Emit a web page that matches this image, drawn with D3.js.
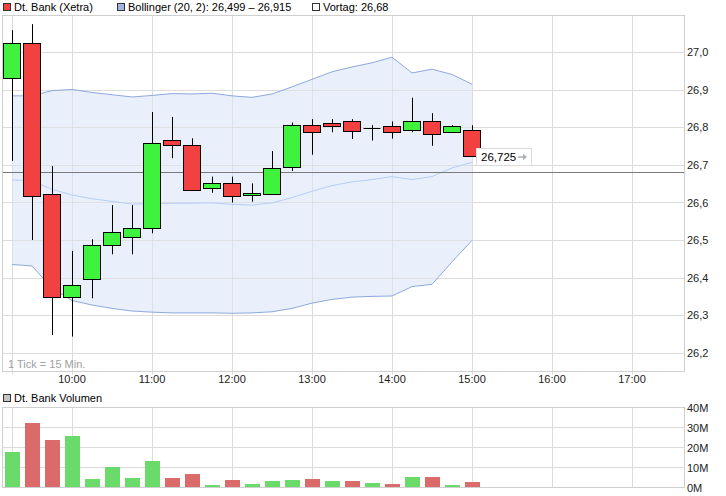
<!DOCTYPE html>
<html><head><meta charset="utf-8">
<script src="https://cdn.jsdelivr.net/npm/d3@7"></script>
<style>body{margin:0;background:#fff}svg{display:block;font-family:"Liberation Sans",Arial,sans-serif}</style>
</head><body><svg id="c" width="726" height="496"></svg>
<script>
// ---- data ----
const times = ["09:15","09:30","09:45","10:00","10:15","10:30","10:45","11:00","11:15","11:30","11:45","12:00",
               "12:15","12:30","12:45","13:00","13:15","13:30","13:45","14:00","14:15","14:30","14:45","15:00"];
const opens  = [26.931,27.024,26.623,26.349,26.396,26.486,26.507,26.531,26.766,26.752,26.638,26.651,
                26.621,26.622,26.695,26.806,26.812,26.817,26.798,26.803,26.792,26.816,26.787,26.792];
const highs  = [27.059,27.075,26.697,26.471,26.502,26.593,26.593,26.841,26.828,26.771,26.669,26.669,
                26.651,26.737,26.813,26.822,26.822,26.822,26.806,26.816,26.879,26.838,26.806,26.806];
const lows   = [26.711,26.500,26.247,26.243,26.345,26.462,26.462,26.518,26.718,26.633,26.626,26.600,
                26.602,26.622,26.684,26.727,26.787,26.769,26.765,26.770,26.787,26.751,26.787,26.725];
const closes = [27.024,26.617,26.349,26.380,26.486,26.521,26.531,26.758,26.752,26.633,26.651,26.617,
                26.626,26.691,26.806,26.787,26.805,26.791,26.798,26.787,26.816,26.782,26.803,26.725];
const volumes = [17.5,32,23.5,25.5,4,10,4.5,13,4.5,6.5,1,3.5,
                 1.5,3,3.5,4,3,3,2,1.5,5,5,1,2.5]; // millions
const upperBand = [26.884,26.884,26.898,26.901,26.893,26.887,26.881,26.885,26.890,26.889,26.891,26.884,
                   26.880,26.889,26.908,26.928,26.948,26.961,26.972,26.987,26.945,26.955,26.941,26.915];
const midBand   = [26.660,26.658,26.635,26.620,26.610,26.603,26.596,26.597,26.598,26.598,26.599,26.595,
                   26.593,26.599,26.613,26.630,26.645,26.655,26.661,26.669,26.661,26.669,26.692,26.707];
const lowerBand = [26.435,26.431,26.372,26.339,26.327,26.318,26.311,26.308,26.306,26.306,26.306,26.305,
                   26.306,26.309,26.318,26.332,26.342,26.348,26.350,26.351,26.376,26.382,26.442,26.499];
const priceTicks = [26.2,26.3,26.4,26.5,26.6,26.7,26.8,26.9,27.0];
const hourTicks = ["10:00","11:00","12:00","13:00","14:00","15:00","16:00","17:00"];
const volTicks = [0,10,20,30,40];
const vortag = 26.68;
const legendItems = ["Dt. Bank (Xetra)","Bollinger (20, 2): 26,499 \u2013 26,915","Vortag: 26,68"];

// ---- scales ----
const toMin = s => { const [h,m] = s.split(":").map(Number); return h*60+m; };
const x = d3.scaleLinear().domain([600,660]).range([72,152]);
const y = d3.scaleLinear().domain([26.2,27.0]).range([352.7,52.3]);
const yv = d3.scaleLinear().domain([0,40]).range([487,407.5]);
const L = 2.5, R = 684.5, T = 15.5, B = 371.5, VT = 407.5, VB = 487.5;
const px = v => Math.round(v) + 0.5;
const fmt = v => v.toFixed(1).replace(".", ",");

const svg = d3.select("#c");
svg.append("rect").attr("width",726).attr("height",496).attr("fill","#fff");

const gridC = "#dcdcdc", frameC = "#cfcfcf";
const data = times.map((t,i)=>({t:toMin(t), o:opens[i], h:highs[i], l:lows[i], c:closes[i],
  v:volumes[i], up:upperBand[i], mid:midBand[i], lo:lowerBand[i],
  volUp: i===0 ? closes[i]>=opens[i] : closes[i]>=closes[i-1]}));

// ---- main panel grid ----
const g = svg.append("g");
const vGrid = [toMin(times[0])].concat(hourTicks.map(toMin));
vGrid.forEach(t=>{
  g.append("line").attr("x1",px(x(t))).attr("x2",px(x(t))).attr("y1",T).attr("y2",B+3).attr("stroke",gridC);
  g.append("line").attr("x1",px(x(t))).attr("x2",px(x(t))).attr("y1",VT).attr("y2",VB).attr("stroke",gridC);
});
priceTicks.forEach(p=>{
  g.append("line").attr("x1",L).attr("x2",R).attr("y1",px(y(p))).attr("y2",px(y(p))).attr("stroke",gridC);
  g.append("text").attr("x",687).attr("y",y(p)+4).attr("font-size",11).attr("fill","#222").text(fmt(p));
});

// Bollinger band
const area = d3.area().x(d=>x(d.t)).y0(d=>y(d.lo)).y1(d=>y(d.up));
g.append("path").datum(data).attr("d",area).attr("fill","#eaf0fb");
// redraw grid lines faintly over band (reference shows grid through band)
priceTicks.forEach(p=>{
  g.append("line").attr("x1",L).attr("x2",R).attr("y1",px(y(p))).attr("y2",px(y(p))).attr("stroke",gridC).attr("stroke-opacity",0.8);
});
vGrid.forEach(t=>{
  g.append("line").attr("x1",px(x(t))).attr("x2",px(x(t))).attr("y1",T).attr("y2",B).attr("stroke",gridC).attr("stroke-opacity",0.8);
});
const line = key => d3.line().x(d=>x(d.t)).y(d=>y(d[key]));
g.append("path").datum(data).attr("d",line("up")).attr("fill","none").attr("stroke","#8ea8de");
g.append("path").datum(data).attr("d",line("lo")).attr("fill","none").attr("stroke","#8ea8de");
g.append("path").datum(data).attr("d",line("mid")).attr("fill","none").attr("stroke","#b6cdf7");

// Vortag line
g.append("line").attr("x1",L).attr("x2",R).attr("y1",px(y(vortag))).attr("y2",px(y(vortag))).attr("stroke","#7a7a7a");

// frames
g.append("rect").attr("x",L).attr("y",T).attr("width",R-L).attr("height",B-T).attr("fill","none").attr("stroke",frameC);
g.append("rect").attr("x",L).attr("y",VT).attr("width",R-L).attr("height",VB-VT).attr("fill","none").attr("stroke",frameC);

// candles
const cg = svg.append("g");
data.forEach(d=>{
  const cx = Math.round(x(d.t));
  cg.append("line").attr("x1",cx+0.5).attr("x2",cx+0.5).attr("y1",y(d.h)).attr("y2",y(d.l)).attr("stroke","#000");
  const top = Math.round(y(Math.max(d.o,d.c))), bot = Math.round(y(Math.min(d.o,d.c)));
  if (d.o === d.c) {
    cg.append("line").attr("x1",cx-8.5).attr("x2",cx+8.5).attr("y1",top+0.5).attr("y2",top+0.5).attr("stroke","#000");
  } else {
    cg.append("rect").attr("x",cx-8.5).attr("y",top+0.5).attr("width",17).attr("height",Math.max(1,bot-top))
      .attr("fill", d.c>d.o ? "#3ef23e" : "#f24141").attr("stroke","#000");
  }
});

// last price label
const last = data[data.length-1];
const ly = y(last.c);
const lb = svg.append("g");
lb.append("rect").attr("x",476.5).attr("y",Math.round(ly)-7.5).attr("width",55).attr("height",17)
  .attr("fill","#fff").attr("stroke","#dcdcdc");
lb.append("text").attr("x",481).attr("y",Math.round(ly)+5).attr("font-size",11.5).attr("fill","#000")
  .text(last.c.toFixed(3).replace(".",","));
const ay = Math.round(ly)+1;
lb.append("path").attr("d",`M518,${ay-0.8}h5v-2.5l4,3.3l-4,3.3v-2.5h-5z`).attr("fill","#b0b0b0");

// x labels
hourTicks.forEach(t=>{
  svg.append("text").attr("x",x(toMin(t))).attr("y",383).attr("text-anchor","middle").attr("font-size",11).attr("fill","#222").text(t);
});
svg.append("text").attr("x",8).attr("y",368).attr("font-size",11).attr("fill","#a0a0a0").text("1 Tick = 15 Min.");

// volume
volTicks.forEach(v=>{
  if (v>0 && v<40) svg.append("line").attr("x1",L).attr("x2",R).attr("y1",px(yv(v))).attr("y2",px(yv(v))).attr("stroke",gridC);
  svg.append("text").attr("x",687).attr("y",yv(v)+4.5).attr("font-size",11).attr("fill","#222").text(v+"M");
});
data.forEach(d=>{
  const cx = Math.round(x(d.t));
  const top = Math.round(yv(d.v));
  svg.append("rect").attr("x",cx-7).attr("y",top).attr("width",15).attr("height",487-top)
    .attr("fill", d.volUp ? "#6adb6a" : "#db6a6a");
});

// legends
const leg = svg.append("g").attr("font-size",11).attr("fill","#000");
const legX = [3,117,312], legFill = ["#f24141","#9fb5e3","#ffffff"];
legendItems.forEach((t,i)=>{
  leg.append("rect").attr("x",legX[i]+0.5).attr("y",3.5).attr("width",7).attr("height",7).attr("fill",legFill[i]).attr("stroke","#333");
  leg.append("text").attr("x",legX[i]+11).attr("y",11).text(t);
});
leg.append("rect").attr("x",3.5).attr("y",394.5).attr("width",7).attr("height",7).attr("fill","#c4c4c4").attr("stroke","#333");
leg.append("text").attr("x",14).attr("y",402).text("Dt. Bank Volumen");
</script></body></html>
